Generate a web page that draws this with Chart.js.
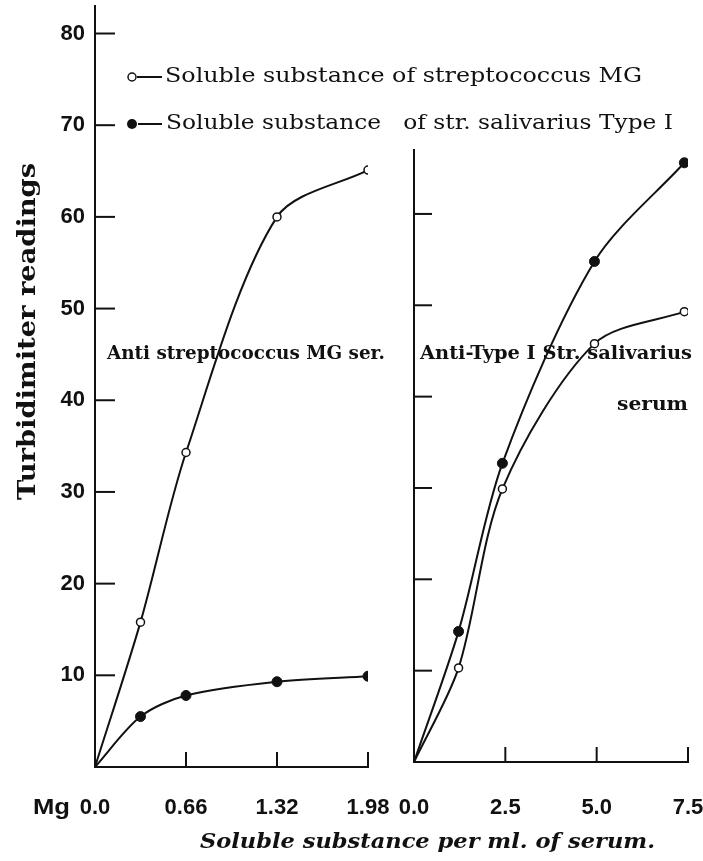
<!DOCTYPE html>
<html>
<head>
<meta charset="utf-8">
<title>Turbidimiter readings</title>
<script src="https://cdn.jsdelivr.net/npm/chart.js@4.4.1/dist/chart.umd.min.js"></script>
<style>
    html, body { margin: 0; padding: 0; background: #fff; }
    #wrap { position: relative; width: 703px; height: 861px; }
    canvas { position: absolute; left: 0; top: 0; }
</style>
</head>
<body>
<div id="wrap">
    <canvas id="leftChart" width="703" height="861"></canvas>
    <canvas id="rightChart" width="703" height="861"></canvas>
</div>
<script>
// left panel - anti streptococcus MG serum (mg per ml)
const leftDoses = [0, 0.33, 0.66, 1.32, 1.98];
const leftMG = [0, 15.8, 34.3, 60.0, 65.1];
const leftTypeI = [0, 5.5, 7.8, 9.3, 9.9];
const leftXTicks = [0, 0.66, 1.32, 1.98];
const leftXLabels = ['0.0', '0.66', '1.32', '1.98'];
const leftYTicks = [10, 20, 30, 40, 50, 60, 70, 80];

// right panel - anti type I str. salivarius serum
const rightDoses = [0, 1.22, 2.42, 4.94, 7.4];
const rightMG = [0, 10.3, 29.9, 45.8, 49.3];
const rightTypeI = [0, 14.3, 32.7, 54.8, 65.6];
const rightXTicks = [0, 2.5, 5.0, 7.5];
const rightXLabels = ['0.0', '2.5', '5.0', '7.5'];
const rightYTicks = [10, 20, 30, 40, 50, 60];

const seriesNames = ['Soluble substance of streptococcus MG', 'Soluble substance   of str. salivarius Type I'];

const INK = '#111';
const numFont = {family: 'Liberation Sans', size: 22, weight: 'bold'};

function toPoints(xs, ys) {
    return xs.map((x, i) => ({x: x, y: ys[i]}));
}

// draws text squeezed/stretched to a given width
function fitText(ctx, text, x, y, width, font) {
    ctx.save();
    ctx.font = font;
    let w = ctx.measureText(text).width;
    ctx.translate(x, y);
    ctx.scale(width / w, 1);
    ctx.fillText(text, 0, 0);
    ctx.restore();
}

// tick marks pointing into the plot
const innerTicks = {
    id: 'innerTicks',
    afterDatasetsDraw(chart, args, opts) {
        const ctx = chart.ctx;
        const xs = chart.scales.x;
        const ys = chart.scales.y;
        ctx.save();
        ctx.strokeStyle = INK;
        ctx.lineWidth = 2;
        ys.ticks.forEach(t => {
            if (t.value === 0) return;
            let py = ys.getPixelForValue(t.value);
            ctx.beginPath();
            ctx.moveTo(ys.right, py);
            ctx.lineTo(ys.right + opts.yLen, py);
            ctx.stroke();
        });
        xs.ticks.forEach(t => {
            if (t.value === 0) return;
            let px = xs.getPixelForValue(t.value);
            ctx.beginPath();
            ctx.moveTo(px, xs.top);
            ctx.lineTo(px, xs.top - opts.xLen);
            ctx.stroke();
        });
        ctx.restore();
    }
};

// legend, axis titles and panel notes
const notes = {
    id: 'notes',
    afterDraw(chart) {
        const ctx = chart.ctx;
        ctx.save();
        ctx.fillStyle = INK;
        ctx.strokeStyle = INK;
        ctx.textBaseline = 'middle';
        ctx.textAlign = 'left';

        // legend
        ctx.lineWidth = 1.5;
        ctx.beginPath();
        ctx.arc(132, 77, 4, 0, Math.PI * 2);
        ctx.fillStyle = '#fff';
        ctx.fill();
        ctx.stroke();
        ctx.fillStyle = INK;
        ctx.beginPath();
        ctx.arc(132, 124, 5, 0, Math.PI * 2);
        ctx.fill();
        ctx.lineWidth = 2;
        ctx.beginPath();
        ctx.moveTo(137, 77);
        ctx.lineTo(162, 77);
        ctx.moveTo(138, 124);
        ctx.lineTo(162, 124);
        ctx.stroke();
        fitText(ctx, seriesNames[0], 165, 77, 477, '21px DejaVu Serif');
        fitText(ctx, seriesNames[1], 166, 124, 507, '21px DejaVu Serif');

        // panel notes
        fitText(ctx, 'Anti streptococcus MG ser.', 107, 354, 278, 'bold 19px DejaVu Serif');
        fitText(ctx, 'Anti-Type I Str. salivarius', 420, 354, 272, 'bold 19px DejaVu Serif');
        fitText(ctx, 'serum', 617, 405, 71, 'bold 19px DejaVu Serif');

        // axis titles
        fitText(ctx, 'Mg', 33, 808, 37, 'bold 22px Liberation Sans');
        fitText(ctx, 'Soluble substance per ml. of serum.', 200, 843, 455, 'italic bold 21px DejaVu Serif');
        ctx.save();
        ctx.translate(28, 500);
        ctx.rotate(-Math.PI / 2);
        fitText(ctx, 'Turbidimiter readings', 0, 0, 337, 'bold 25px DejaVu Serif');
        ctx.restore();

        ctx.restore();
    }
};

function openSeries(xs, ys) {
    return {
        data: toPoints(xs, ys),
        borderColor: INK,
        borderWidth: 2,
        tension: 0.3,
        pointRadius: ys.map((v, i) => i === 0 ? 0 : 4),
        pointBackgroundColor: '#fff',
        pointBorderColor: INK,
        pointBorderWidth: 1.5
    };
}

function filledSeries(xs, ys) {
    return {
        data: toPoints(xs, ys),
        borderColor: INK,
        borderWidth: 2,
        tension: 0.3,
        pointRadius: ys.map((v, i) => i === 0 ? 0 : 5),
        pointBackgroundColor: INK,
        pointBorderColor: INK,
        pointBorderWidth: 1
    };
}

function makePanel(canvasId, p) {
    return new Chart(document.getElementById(canvasId), {
        type: 'line',
        data: {
            datasets: [openSeries(p.doses, p.mg), filledSeries(p.doses, p.typeI)]
        },
        options: {
            responsive: false,
            animation: false,
            devicePixelRatio: 1,
            layout: {padding: p.padding},
            plugins: {
                legend: {display: false},
                tooltip: {enabled: false},
                innerTicks: {xLen: 15, yLen: p.yTickLen}
            },
            scales: {
                x: {
                    type: 'linear',
                    min: 0,
                    max: p.xTicks[p.xTicks.length - 1],
                    afterBuildTicks: scale => {
                        scale.ticks = p.xTicks.map(v => ({value: v}));
                    },
                    afterFit: scale => {
                        scale.height = p.xHeight;
                        scale.paddingLeft = 0;
                        scale.paddingRight = 0;
                    },
                    grid: {drawOnChartArea: false, drawTicks: false},
                    border: {display: true, color: INK, width: 2},
                    ticks: {
                        color: INK,
                        font: numFont,
                        padding: p.xLabelPad,
                        maxRotation: 0,
                        autoSkip: false,
                        callback: (value, index) => p.xLabels[index]
                    }
                },
                y: {
                    type: 'linear',
                    min: 0,
                    max: p.yMax,
                    afterBuildTicks: scale => {
                        scale.ticks = p.yTicks.map(v => ({value: v}));
                    },
                    afterFit: scale => {
                        scale.width = p.yWidth;
                        scale.paddingTop = 0;
                        scale.paddingBottom = 0;
                    },
                    grid: {drawOnChartArea: false, drawTicks: false},
                    border: {display: true, color: INK, width: 2},
                    ticks: {
                        display: p.yLabels,
                        color: INK,
                        font: numFont,
                        padding: 10
                    }
                }
            }
        },
        plugins: p.extra ? [innerTicks, notes] : [innerTicks]
    });
}

makePanel('leftChart', {
    doses: leftDoses, mg: leftMG, typeI: leftTypeI,
    xTicks: leftXTicks, xLabels: leftXLabels, yTicks: leftYTicks,
    yMax: 83, yLabels: true, yTickLen: 20,
    yWidth: 95, xHeight: 94, xLabelPad: 28,
    padding: {left: 0, right: 335, top: 6, bottom: 0},
    extra: true
});

makePanel('rightChart', {
    doses: rightDoses, mg: rightMG, typeI: rightTypeI,
    xTicks: rightXTicks, xLabels: rightXLabels, yTicks: rightYTicks,
    yMax: 67, yLabels: false, yTickLen: 18,
    yWidth: 414, xHeight: 99, xLabelPad: 33,
    padding: {left: 0, right: 15, top: 150, bottom: 0},
    extra: false
});
</script>
</body>
</html>
